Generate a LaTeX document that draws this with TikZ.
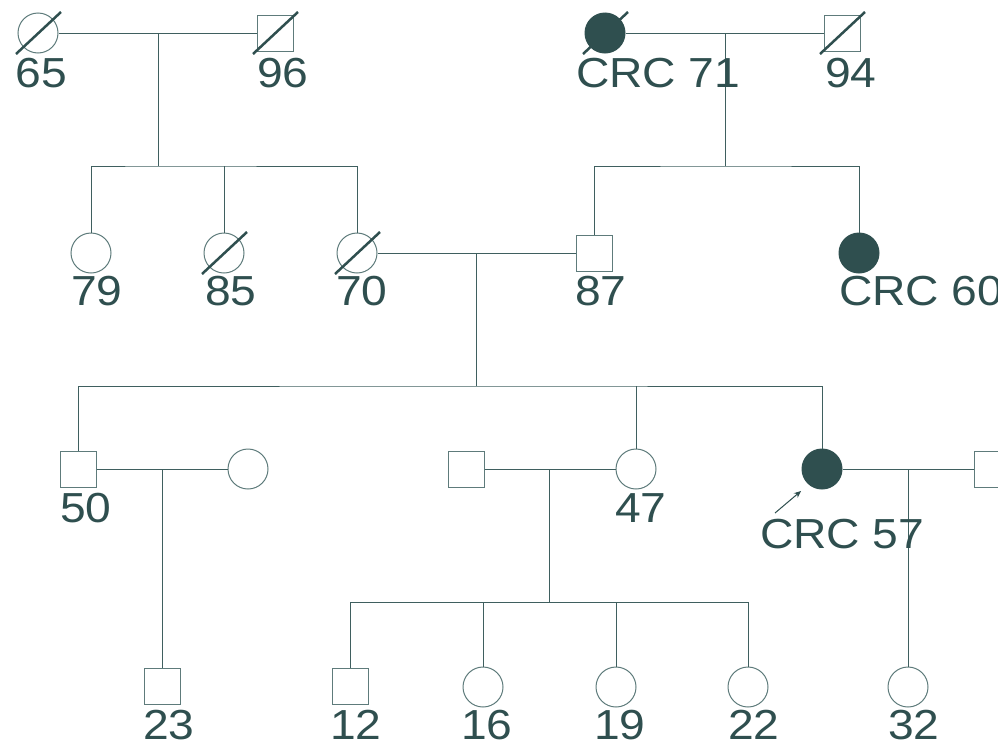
\documentclass[tikz,border=0pt]{standalone}
\usepackage{fontspec}
\setmainfont{Liberation Sans}
\usepackage{graphicx}
\usetikzlibrary{arrows.meta}
\definecolor{slate}{HTML}{2F4F4F}
\definecolor{shapeclr}{HTML}{5E7B7B}
\definecolor{lineclr}{HTML}{3F5F5F}
\newcommand\wlab[1]{\scalebox{1.1}[1]{#1}}
\begin{document}
\begin{tikzpicture}[x=1pt,y=-1pt,
 fem/.style={circle,draw=shapeclr,line width=1pt,minimum size=40pt,inner sep=0pt,fill=white},
 mal/.style={rectangle,draw=shapeclr,line width=1pt,minimum size=36pt,inner sep=0pt,fill=white},
 aff/.style={fill=slate,draw=slate},
 lbl/.style={anchor=base west,inner sep=0pt,outer sep=0pt,text=slate,font=\fontsize{42}{42}\selectfont},
 rel/.style={draw=lineclr,line width=1pt},
 dec/.style={draw=slate,line width=2.5pt},
 proarrow/.style={draw=slate,line width=1pt,-{Stealth[length=7pt,width=6pt]}}
]
\useasboundingbox (0,0) rectangle (998,742);
\clip (0,0) rectangle (998,742);

% generation 1
\node[fem] (g65) at (38,33) {};
\node[mal] (g96) at (275,33) {};
\node[fem,aff] (g71) at (605,33) {};
\node[mal] (g94) at (842,33) {};
% generation 2
\node[fem] (g79) at (91,253) {};
\node[fem] (g85) at (224,253) {};
\node[fem] (g70) at (357,253) {};
\node[mal] (g87) at (594,253) {};
\node[fem,aff] (g60) at (859,253) {};
% generation 3
\node[mal] (g50) at (78,469) {};
\node[fem] (gsp1) at (248,469) {};
\node[mal] (gsp2) at (466,469) {};
\node[fem] (g47) at (636,469) {};
\node[fem,aff] (g57) at (822,469) {};
\node[mal] (gsp3) at (992,469) {};
% generation 4
\node[mal] (g23) at (162,686) {};
\node[mal] (g12) at (350,686) {};
\node[fem] (g16) at (483,687) {};
\node[fem] (g19) at (616,687) {};
\node[fem] (g22) at (748,687) {};
\node[fem] (g32) at (908,687) {};

% helper coordinates
\coordinate (m1) at (158,33);
\coordinate (s1) at (158,166);
\coordinate (m2) at (725,33);
\coordinate (s2) at (725,166);
\coordinate (m3) at (476,253);
\coordinate (s3) at (476,386);
\coordinate (m4) at (162,469);
\coordinate (m5) at (549,469);
\coordinate (s5) at (549,602);
\coordinate (m6) at (908,469);

% marriages
\draw[rel] (g65) -- (g96);
\draw[rel] (g71) -- (g94);
\draw[rel] (g70) -- (g87);
\draw[rel] (g50) -- (gsp1);
\draw[rel] (gsp2) -- (g47);
\draw[rel] (g57) -- (gsp3);

% descent lines
\draw[rel] (m1) -- (s1);
\draw[rel] (g79.north) |- (s1) -| (g70.north);
\draw[rel] (g85.north) -- (g85.north |- s1);
\draw[rel] (m2) -- (s2);
\draw[rel] (g87.north) |- (s2) -| (g60.north);
\draw[rel] (m3) -- (s3);
\draw[rel] (g50.north) |- (s3) -| (g57.north);
\draw[rel] (g47.north) -- (g47.north |- s3);
\draw[rel] (m4) -- (g23.north);
\draw[rel] (m5) -- (s5);
\draw[rel] (g12.north) |- (s5) -| (g22.north);
\draw[rel] (g16.north) -- (g16.north |- s5);
\draw[rel] (g19.north) -- (g19.north |- s5);
\draw[rel] (m6) -- (g32.north);

% deceased slashes
\foreach \n in {g65,g96,g71,g94,g85,g70}
  \draw[dec] ([shift={(-22,21)}]\n.center) -- ([shift={(23,-21)}]\n.center);

% proband arrow
\coordinate (pa1) at (775,513);
\coordinate (pa2) at (801,491);
\draw[proarrow] (pa1) -- (pa2);

% labels
\node[lbl] (l65) at (16,87) {\wlab{65}};
\node[lbl] (l96) at (257,87) {\wlab{96}};
\node[lbl] (l71) at (576,87) {\wlab{CRC 71}};
\node[lbl] (l94) at (825,87) {\wlab{94}};
\node[lbl] (l79) at (71,305) {\wlab{79}};
\node[lbl] (l85) at (205,305) {\wlab{85}};
\node[lbl] (l70) at (336,305) {\wlab{70}};
\node[lbl] (l87) at (575,305) {\wlab{87}};
\node[lbl] (l60) at (839,305) {\wlab{CRC 60}};
\node[lbl] (l50) at (60,522) {\wlab{50}};
\node[lbl] (l47) at (615,522) {\wlab{47}};
\node[lbl] (l57) at (760,548) {\wlab{CRC 57}};
\node[lbl] (l23) at (143,739) {\wlab{23}};
\node[lbl] (l12) at (330,739) {\wlab{12}};
\node[lbl] (l16) at (461,739) {\wlab{16}};
\node[lbl] (l19) at (594,739) {\wlab{19}};
\node[lbl] (l22) at (728,739) {\wlab{22}};
\node[lbl] (l32) at (888,739) {\wlab{32}};
\end{tikzpicture}
\end{document}
